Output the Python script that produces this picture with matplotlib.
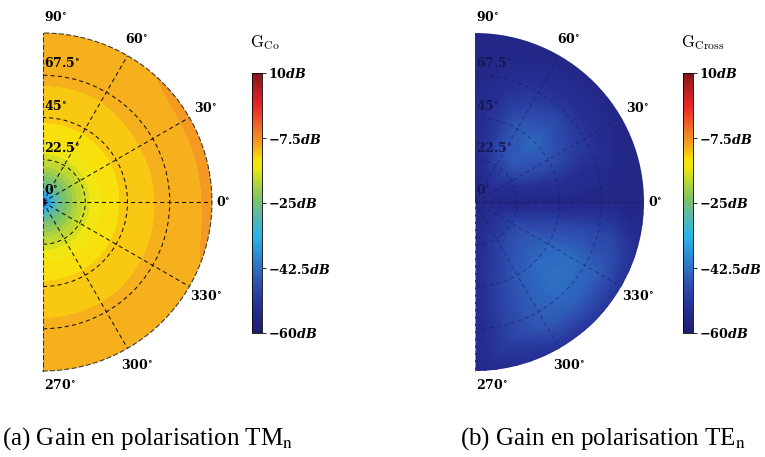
import numpy as np
import matplotlib
matplotlib.use("Agg")
import matplotlib.pyplot as plt
import matplotlib.tri as mtri
from matplotlib.colors import LinearSegmentedColormap, Normalize
from matplotlib.cm import ScalarMappable

plt.rcParams['mathtext.fontset'] = 'cm'

# ---------------- data ----------------
# Co-polar gain (TM_n): azimuth phi (deg) x elevation theta (deg)
phi_co = [-90, -60, -30, 0, 30, 60, 90]
theta_co = [0, 3, 6, 10, 15, 20, 26, 33, 40, 46, 52, 58, 64, 70, 76, 82, 86, 90]
gain_co_db = [
    [-52, -52, -52, -52, -52, -52, -52],
    [-38, -38, -38, -38, -38, -38, -38],
    [-31, -31, -31, -30.5, -31, -31, -31],
    [-26, -26, -25.8, -25.5, -25.8, -26, -26],
    [-22.5, -22.5, -22.3, -22.0, -22.3, -22.5, -22.5],
    [-19.0, -19.0, -18.8, -18.5, -18.8, -19.0, -19.0],
    [-16.2, -16.2, -16.0, -15.8, -16.0, -16.2, -16.2],
    [-14.3, -14.3, -14.2, -14.0, -14.2, -14.3, -14.3],
    [-13.2, -13.2, -13.1, -12.9, -13.1, -13.2, -13.2],
    [-12.0, -12.0, -11.9, -11.7, -11.9, -12.0, -12.0],
    [-11.6, -11.6, -11.5, -11.4, -11.5, -11.6, -11.6],
    [-11.2, -11.2, -11.2, -11.1, -11.1, -11.2, -11.2],
    [-10.9, -10.9, -10.8, -10.7, -10.7, -10.9, -10.9],
    [-10.3, -10.3, -10.2, -10.1, -10.1, -10.3, -10.3],
    [-10.0, -10.0, -9.9, -9.8, -9.8, -10.0, -10.0],
    [-9.8, -9.8, -9.7, -9.5, -9.5, -9.8, -9.8],
    [-9.7, -9.7, -9.5, -9.1, -9.1, -9.6, -9.7],
    [-9.6, -9.6, -9.4, -8.9, -8.9, -9.5, -9.6],
]

# Cross-polar gain (TE_n)
phi_cross = [-90, -75, -60, -45, -30, -15, 0, 15, 30, 45, 60, 75, 90]
theta_cross = [0, 15, 30, 45, 60, 75, 90]
gain_cross_db = [
    [-56, -56, -56, -56, -56, -56, -56, -56, -56, -56, -56, -56, -56],
    [-55.5, -54, -53, -52.5, -52.5, -54, -56, -55, -53.5, -52.5, -53, -55, -55.5],
    [-55, -51.5, -48.5, -46.5, -47, -51, -56, -53, -48, -45.5, -47, -51.5, -55],
    [-55, -50, -45.5, -43.5, -44, -49, -56, -52.5, -46.5, -43.5, -45.5, -51.5, -55],
    [-55, -49, -44.5, -42.5, -43, -48, -56, -54, -50, -48, -50, -53, -55.5],
    [-55, -49.5, -45.5, -44.5, -45, -49, -56, -55, -54, -53.5, -54, -55, -55.5],
    [-56, -54, -52.5, -52, -52.5, -54, -56, -56, -56, -56, -56, -56, -56],
]

cbar_ticks = [10, -7.5, -25, -42.5, -60]
cbar_ticklabels = ['10', '-7.5', '-25', '-42.5', '-60']
angle_ticks = [90, 60, 30, 0, -30, -60, -90]
angle_labels = ['90', '60', '30', '0', '330', '300', '270']
radial_ticks = [0, 22.5, 45, 67.5]
radial_labels = ['0', '22.5', '45', '67.5']
cbar_titles = [r'$\mathrm{G}_{\mathrm{Co}}$', r'$\mathrm{G}_{\mathrm{Cross}}$']
captions = [r'(a) Gain en polarisation TM$_{\mathrm{n}}$',
            r'(b) Gain en polarisation TE$_{\mathrm{n}}$']

# ---------------- style ----------------
cmap = LinearSegmentedColormap.from_list('washed_jet', [
    (0.00, '#1e1e6e'), (0.10, '#262f96'), (0.20, '#2f55b4'), (0.30, '#2d8cd7'),
    (0.37, '#28b4e6'), (0.45, '#5ab9aa'), (0.52, '#82c364'), (0.60, '#c8dc28'),
    (0.635, '#f0e614'), (0.67, '#fade0a'), (0.72, '#f5a820'), (0.80, '#f06428'),
    (0.88, '#e62328'), (1.00, '#821919')])
norm = Normalize(-60, 10)
LBL = dict(math_fontfamily='dejavuserif', fontsize=9)

W, H = 765, 457
fig = plt.figure(figsize=(W / 100, H / 100), dpi=100)


def px(x0, ytop, w, h):
    return [x0 / W, 1 - (ytop + h) / H, w / W, h / H]


def refined(phi, theta, z):
    P, T = np.meshgrid(np.radians(phi), np.asarray(theta, float))
    tri = mtri.Triangulation(P.ravel(), T.ravel())
    ref = mtri.UniformTriRefiner(tri)
    interp = mtri.LinearTriInterpolator(tri, np.asarray(z, float).ravel())
    return ref.refine_field(np.asarray(z, float).ravel(), triinterpolator=interp, subdiv=4)


def polar_panel(xc, phi, theta, z, levels, dark):
    R = 169
    # square box: the half disc (radius R) is centred horizontally inside it
    ax = fig.add_axes(px(xc - R / 2, 33, 2 * R, 2 * R), projection='polar')
    ax.set_thetamin(-90)
    ax.set_thetamax(90)
    tri_r, z_r = refined(phi, theta, z)
    ax.tricontourf(tri_r, z_r, levels=levels, cmap=cmap, norm=norm, zorder=0.5)
    ax.set_rlim(0, 90)
    ax.set_xticks(np.radians([-60, -30, 0, 30, 60]))
    ax.set_xticklabels([])
    ax.set_yticks([22.5, 45, 67.5])
    ax.set_yticklabels([])
    ax.tick_params(length=0)
    gcol = '#161b52' if dark else 'black'
    ax.grid(True, color=gcol, lw=0.75, linestyle=(0, (4, 3)), alpha=0.5 if dark else 0.9)
    for name, sp in ax.spines.items():
        sp.set_linestyle((0, (4, 3)))
        sp.set_linewidth(0.75)
        sp.set_color('#333333')
    if dark:
        ax.spines['polar'].set_visible(False)
        ax.spines['end'].set_visible(False)
        ax.spines['start'].set_color('#999999')
    ax.set_facecolor('none')
    # angular labels
    for a, lab in zip(angle_ticks, angle_labels):
        s = r'$\mathbf{' + lab + r'^{\circ}}$'
        if a == 90:
            ax.annotate(s, xy=(np.pi / 2, 90), xytext=(1, 16), textcoords='offset pixels',
                        ha='left', va='center', **LBL)
        elif a == -90:
            ax.annotate(s, xy=(-np.pi / 2, 90), xytext=(1, -14), textcoords='offset pixels',
                        ha='left', va='center', **LBL)
        else:
            rr = 96 if a == 0 else 100
            ax.text(np.radians(a), rr, s, ha='center', va='center', **LBL)
    rcol = '#151a55' if dark else 'black'
    for rv, lab in zip(radial_ticks, radial_labels):
        ax.annotate(r'$\mathbf{' + lab + r'^{\circ}}$', xy=(np.pi / 2, rv), xytext=(1, 12),
                    textcoords='offset pixels', ha='left', va='center',
                    color=rcol, zorder=0.6 if dark else 3, **LBL)
    return ax


levels_co = np.linspace(-60, 10, 41)
levels_cross = np.linspace(-60, 10, 141)
polar_panel(43, phi_co, theta_co, gain_co_db, levels_co, False)
polar_panel(475, phi_cross, theta_cross, gain_cross_db, levels_cross, True)

tick_texts = [r'$\mathbf{' + t + r'}\mathbfit{dB}$' for t in cbar_ticklabels]
for cx, title in zip([252, 683], cbar_titles):
    cax = fig.add_axes(px(cx, 73, 10, 260))
    cb = fig.colorbar(ScalarMappable(norm=norm, cmap=cmap), cax=cax, ticks=cbar_ticks)
    cb.set_ticklabels(tick_texts)
    cax.tick_params(length=3, width=0.6, pad=1.5)
    for t in cax.get_yticklabels():
        t.set_math_fontfamily('dejavuserif')
        t.set_fontsize(9.2)
    cb.outline.set_linewidth(0.6)
    fig.text((cx - 2) / W, 1 - 47 / H, title, fontsize=12, ha='left', va='baseline')

for xc, cap in zip([148, 603], captions):
    fig.text(xc / W, 1 - 445 / H, cap, fontsize=18, family='Liberation Serif',
             math_fontfamily='stix', ha='center', va='baseline')

fig.savefig('out.png', dpi=100)
